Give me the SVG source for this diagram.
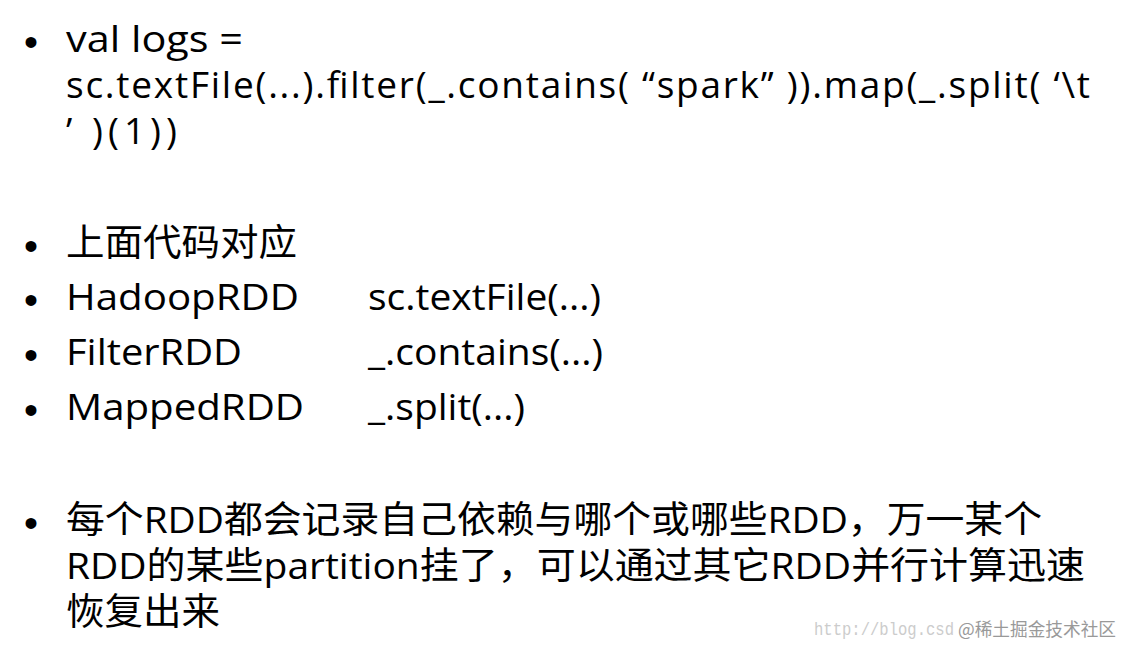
<svg xmlns="http://www.w3.org/2000/svg" width="1126" height="647" viewBox="0 0 1126 647">
<style>
.t{font-family:"Open Sans","Noto Sans","Noto Sans CJK SC",sans-serif;font-size:37px;fill:#000}
.b{font-family:"Liberation Sans",sans-serif;font-size:40px;fill:#000}
.w{font-family:"Liberation Mono","Noto Sans CJK SC",monospace;font-size:18px;fill:#ccc}
</style>
<rect width="1126" height="647" fill="#fff"/>
<g id="bullets" class="b">
<text x="24" y="56">•</text>
<text x="24" y="260">•</text>
<text x="24" y="314">•</text>
<text x="24" y="369">•</text>
<text x="24" y="424">•</text>
<text x="24" y="537">•</text>
</g>
<g id="text" class="t">
<text x="66" y="52" textLength="177" lengthAdjust="spacingAndGlyphs">val logs =</text>
<text x="66" y="98" textLength="1024" lengthAdjust="spacing">sc.textFile(...).filter(_.contains( “spark” )).map(_.split( ‘\t</text>
<text x="66" y="144" textLength="111" lengthAdjust="spacing">’ )(1))</text>
<text x="66" y="256" textLength="231" lengthAdjust="spacingAndGlyphs">上面代码对应</text>
<text x="66" y="310" textLength="233" lengthAdjust="spacingAndGlyphs">HadoopRDD</text><text x="368" y="310" textLength="233" lengthAdjust="spacingAndGlyphs">sc.textFile(...)</text>
<text x="66" y="365" textLength="176" lengthAdjust="spacingAndGlyphs">FilterRDD</text><text x="368" y="365" textLength="235" lengthAdjust="spacingAndGlyphs">_.contains(...)</text>
<text x="66" y="420" textLength="238" lengthAdjust="spacingAndGlyphs">MappedRDD</text><text x="368" y="420" textLength="157" lengthAdjust="spacingAndGlyphs">_.split(...)</text>
<text x="66" y="533" textLength="976" lengthAdjust="spacingAndGlyphs">每个RDD都会记录自己依赖与哪个或哪些RDD，万一某个</text>
<text x="66" y="579" textLength="1019" lengthAdjust="spacingAndGlyphs">RDD的某些partition挂了，可以通过其它RDD并行计算迅速</text>
<text x="66" y="625" textLength="154" lengthAdjust="spacingAndGlyphs">恢复出来</text>
</g>
<g id="watermark">
<text class="w" x="814" y="635" textLength="140" lengthAdjust="spacingAndGlyphs">http://blog.csd</text>
<text x="958" y="636" font-family="Noto Sans CJK SC,sans-serif" font-size="18" fill="#999" textLength="158" lengthAdjust="spacingAndGlyphs">@稀土掘金技术社区</text>
</g>
</svg>
